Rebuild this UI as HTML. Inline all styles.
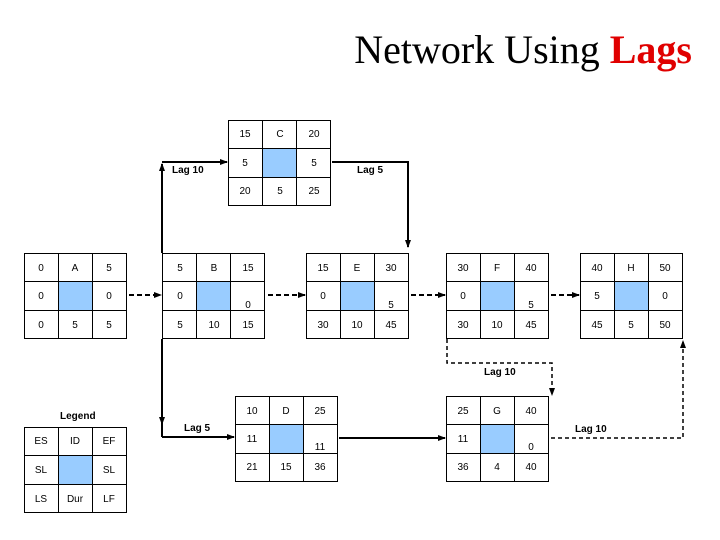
<!DOCTYPE html>
<html><head><meta charset="utf-8"><style>
html,body{margin:0;padding:0;background:#fff;}
svg{display:block;}
.t{font-family:"Liberation Sans",sans-serif;font-size:10px;fill:#000;text-anchor:middle;}
.l{font-family:"Liberation Sans",sans-serif;font-size:10px;font-weight:bold;fill:#000;}
</style></head><body>
<svg width="720" height="540" viewBox="0 0 720 540" xmlns="http://www.w3.org/2000/svg">
<defs>
<marker id="ah" markerWidth="8" markerHeight="8" refX="7" refY="4" orient="auto" markerUnits="userSpaceOnUse">
<path d="M0,1 L8,4 L0,7 Z" fill="#000"/></marker>
<g id="grid">
<rect x="0" y="0" width="102" height="85" fill="#fff" stroke="#000" stroke-width="1"/>
<rect x="34" y="28" width="34" height="29" fill="#99ccff"/>
<path d="M34,0V85M68,0V85M0,28H102M0,57H102" stroke="#000" stroke-width="1" fill="none"/>
</g>
</defs>
<text x="692" y="63" text-anchor="end" font-family="Liberation Serif,serif" font-size="40">Network Using <tspan fill="#e00000" font-weight="bold">Lags</tspan></text>

<!-- C -->
<use href="#grid" x="228.5" y="120.5"/>
<text class="t" x="245" y="137">15</text><text class="t" x="280" y="137">C</text><text class="t" x="314" y="137">20</text>
<text class="t" x="245" y="166">5</text><text class="t" x="314" y="166">5</text>
<text class="t" x="245" y="194">20</text><text class="t" x="280" y="194">5</text><text class="t" x="314" y="194">25</text>

<!-- A -->
<use href="#grid" x="24.5" y="253.5"/>
<text class="t" x="41" y="271">0</text><text class="t" x="75" y="271">A</text><text class="t" x="109" y="271">5</text>
<text class="t" x="41" y="299">0</text><text class="t" x="109" y="299">0</text>
<text class="t" x="41" y="328">0</text><text class="t" x="75" y="328">5</text><text class="t" x="109" y="328">5</text>
<!-- B -->
<use href="#grid" x="162.5" y="253.5"/>
<text class="t" x="180" y="271">5</text><text class="t" x="214" y="271">B</text><text class="t" x="248" y="271">15</text>
<text class="t" x="180" y="299">0</text><text class="t" x="248" y="308">0</text>
<text class="t" x="180" y="328">5</text><text class="t" x="214" y="328">10</text><text class="t" x="248" y="328">15</text>
<!-- E -->
<use href="#grid" x="306.5" y="253.5"/>
<text class="t" x="323" y="271">15</text><text class="t" x="357" y="271">E</text><text class="t" x="391" y="271">30</text>
<text class="t" x="323" y="299">0</text><text class="t" x="391" y="308">5</text>
<text class="t" x="323" y="328">30</text><text class="t" x="357" y="328">10</text><text class="t" x="391" y="328">45</text>
<!-- F -->
<use href="#grid" x="446.5" y="253.5"/>
<text class="t" x="463" y="271">30</text><text class="t" x="497" y="271">F</text><text class="t" x="531" y="271">40</text>
<text class="t" x="463" y="299">0</text><text class="t" x="531" y="308">5</text>
<text class="t" x="463" y="328">30</text><text class="t" x="497" y="328">10</text><text class="t" x="531" y="328">45</text>
<!-- H -->
<use href="#grid" x="580.5" y="253.5"/>
<text class="t" x="597" y="271">40</text><text class="t" x="631" y="271">H</text><text class="t" x="665" y="271">50</text>
<text class="t" x="597" y="299">5</text><text class="t" x="665" y="299">0</text>
<text class="t" x="597" y="328">45</text><text class="t" x="631" y="328">5</text><text class="t" x="665" y="328">50</text>

<!-- D -->
<use href="#grid" x="235.5" y="396.5"/>
<text class="t" x="252" y="414">10</text><text class="t" x="286" y="414">D</text><text class="t" x="320" y="414">25</text>
<text class="t" x="252" y="442">11</text><text class="t" x="320" y="450">11</text>
<text class="t" x="252" y="470">21</text><text class="t" x="286" y="470">15</text><text class="t" x="320" y="470">36</text>
<!-- G -->
<use href="#grid" x="446.5" y="396.5"/>
<text class="t" x="463" y="414">25</text><text class="t" x="497" y="414">G</text><text class="t" x="531" y="414">40</text>
<text class="t" x="463" y="442">11</text><text class="t" x="531" y="450">0</text>
<text class="t" x="463" y="470">36</text><text class="t" x="497" y="470">4</text><text class="t" x="531" y="470">40</text>

<!-- Legend -->
<text class="l" x="60" y="419">Legend</text>
<use href="#grid" x="24.5" y="427.5"/>
<text class="t" x="41" y="444">ES</text><text class="t" x="75" y="444">ID</text><text class="t" x="109" y="444">EF</text>
<text class="t" x="41" y="473">SL</text><text class="t" x="109" y="473">SL</text>
<text class="t" x="41" y="502">LS</text><text class="t" x="75" y="502">Dur</text><text class="t" x="109" y="502">LF</text>

<!-- dashed chain -->
<g stroke="#000" stroke-width="2" stroke-dasharray="5,3" fill="none" marker-end="url(#ah)">
<line x1="129" y1="295" x2="161" y2="295"/>
<line x1="268" y1="295" x2="305" y2="295"/>
<line x1="411" y1="295" x2="445" y2="295"/>
<line x1="551" y1="295" x2="579" y2="295"/>
</g>
<!-- Lag 10 into C -->
<g stroke="#000" stroke-width="2" fill="none">
<line x1="162" y1="253" x2="162" y2="164" marker-end="url(#ah)"/>
<line x1="162" y1="162" x2="227" y2="162" marker-end="url(#ah)"/>
<polyline points="332,162 408,162 408,247" marker-end="url(#ah)"/>
<polyline points="162,339 162,424" marker-end="url(#ah)"/>
<line x1="162" y1="437" x2="234" y2="437" marker-end="url(#ah)"/>
<line x1="339" y1="438" x2="445" y2="438" marker-end="url(#ah)"/>
</g>
<line x1="162" y1="424" x2="162" y2="437" stroke="#000" stroke-width="2"/>
<g stroke="#000" stroke-width="1.5" stroke-dasharray="4,3" fill="none">
<polyline points="447,339 447,363 552,363 552,395" marker-end="url(#ah)"/>
<polyline points="551,438 683,438 683,341" marker-end="url(#ah)"/>
</g>
<text class="l" x="172" y="173">Lag 10</text>
<text class="l" x="357" y="173">Lag 5</text>
<text class="l" x="184" y="431">Lag 5</text>
<text class="l" x="484" y="375">Lag 10</text>
<text class="l" x="575" y="432">Lag 10</text>
</svg>
</body></html>
